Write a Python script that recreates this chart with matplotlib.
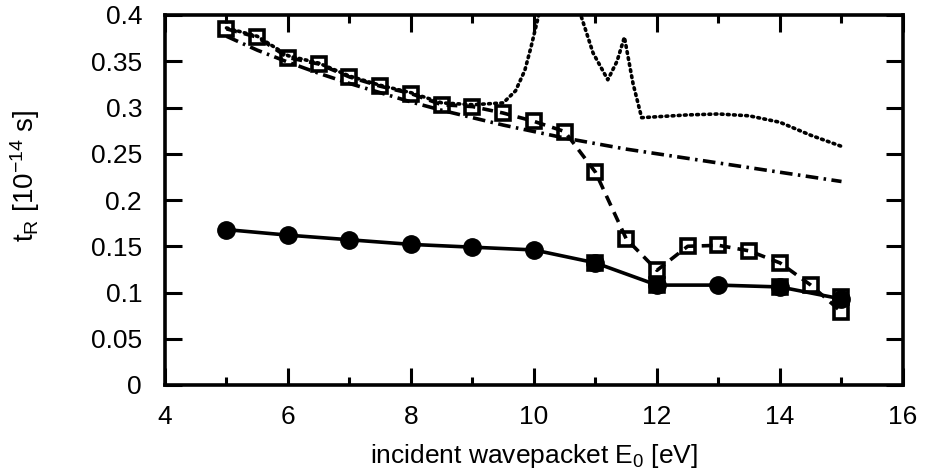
import matplotlib
matplotlib.use("Agg")
import matplotlib.pyplot as plt
from matplotlib.ticker import MultipleLocator

# filled circles, solid line
e_circ = [5, 6, 7, 8, 9, 10, 11, 12, 13, 14, 15]
t_circ = [0.168, 0.162, 0.157, 0.152, 0.149, 0.146, 0.132, 0.108, 0.108, 0.106, 0.093]
# open squares sitting on the solid curve
e_sq_solid = [11, 12, 14, 15]
t_sq_solid = [0.132, 0.108, 0.106, 0.095]

# open squares, dashed line
e_sq = [5, 5.5, 6, 6.5, 7, 7.5, 8, 8.5, 9, 9.5, 10, 10.5, 11, 11.5, 12,
        12.5, 13, 13.5, 14, 14.5, 15]
t_sq = [0.385, 0.376, 0.354, 0.347, 0.333, 0.323, 0.315, 0.303, 0.301, 0.294,
        0.285, 0.274, 0.230, 0.158, 0.124, 0.150, 0.151, 0.145, 0.132, 0.108, 0.079]

# dash-dot curve
e_dd = [5, 5.5, 6, 6.5, 7, 7.5, 8, 8.5, 9, 9.5, 10, 10.5, 11, 11.5, 12,
        12.5, 13, 13.5, 14, 14.5, 15]
t_dd = [0.377, 0.362, 0.349, 0.337, 0.326, 0.316, 0.306, 0.297, 0.289, 0.281,
        0.274, 0.267, 0.261, 0.255, 0.250, 0.245, 0.240, 0.235, 0.230, 0.225, 0.220]

# dotted curve
e_dot = [5, 5.5, 6, 6.5, 7, 7.5, 8, 8.5, 9, 9.5, 9.7, 9.85, 9.95, 10.07, 10.2,
         10.4, 10.6, 10.77, 10.96, 11.2, 11.35, 11.47, 11.61, 11.75, 12, 12.5,
         13, 13.5, 14, 14.5, 15]
t_dot = [0.386, 0.377, 0.356, 0.348, 0.334, 0.324, 0.316, 0.305, 0.303, 0.305,
         0.318, 0.340, 0.365, 0.398, 0.45, 0.50, 0.45, 0.398, 0.359, 0.330,
         0.350, 0.376, 0.326, 0.289, 0.290, 0.292, 0.293, 0.291, 0.284, 0.270, 0.258]

y_ticks = [0, 0.05, 0.1, 0.15, 0.2, 0.25, 0.3, 0.35, 0.4]
y_tick_labels = ["0", "0.05", "0.1", "0.15", "0.2", "0.25", "0.3", "0.35", "0.4"]

plt.rcParams["font.family"] = ["Liberation Sans", "DejaVu Sans"]
plt.rcParams["font.size"] = 19
plt.rcParams["mathtext.fontset"] = "custom"
plt.rcParams["mathtext.rm"] = "Liberation Sans"
plt.rcParams["mathtext.it"] = "Liberation Sans"

fig = plt.figure(figsize=(9.29, 4.74), dpi=100)
ax = fig.add_axes([165 / 929, 1 - 385 / 474, (903 - 165) / 929, (385 - 15) / 474])

lw = 2.6
ax.plot(e_dot, t_dot, color="black", lw=lw, linestyle=(0, (0.5, 1.2)),
        dash_capstyle="round")
ax.plot(e_dd, t_dd, color="black", lw=lw, linestyle=(0, (3.5, 1.5, 0.7, 1.5)))
ax.plot(e_sq, t_sq, color="black", lw=lw, linestyle=(0, (3.0, 2.0)),
        marker="s", markersize=10, mfc="none", mew=2.6)
ax.plot(e_circ, t_circ, color="black", lw=lw, linestyle="-",
        marker="o", markersize=12.5)
ax.plot(e_sq_solid, t_sq_solid, color="black", lw=0, marker="s",
        markersize=10, mfc="none", mew=2.6)

ax.set_xlim(4, 16)
ax.set_ylim(0, 0.4)
ax.xaxis.set_major_locator(MultipleLocator(2))
ax.xaxis.set_minor_locator(MultipleLocator(1))
ax.set_yticks(y_ticks, y_tick_labels)
ax.tick_params(which="both", direction="in", top=True, right=True, width=2.2)
ax.tick_params(which="major", length=12)
ax.tick_params(which="minor", length=6)
ax.tick_params(axis="x", which="major", pad=14.5)
ax.tick_params(axis="y", which="major", pad=16.5)
for sp in ax.spines.values():
    sp.set_linewidth(2.6)

ax.set_xlabel(r"incident wavepacket E$_0$ [eV]", labelpad=9)
ax.set_ylabel(r"t$_\mathrm{R}$ [10$^{-14}$ s]", fontsize=20)
ax.yaxis.set_label_coords(-0.167, 0.565)

fig.savefig("out.png", dpi=100)
